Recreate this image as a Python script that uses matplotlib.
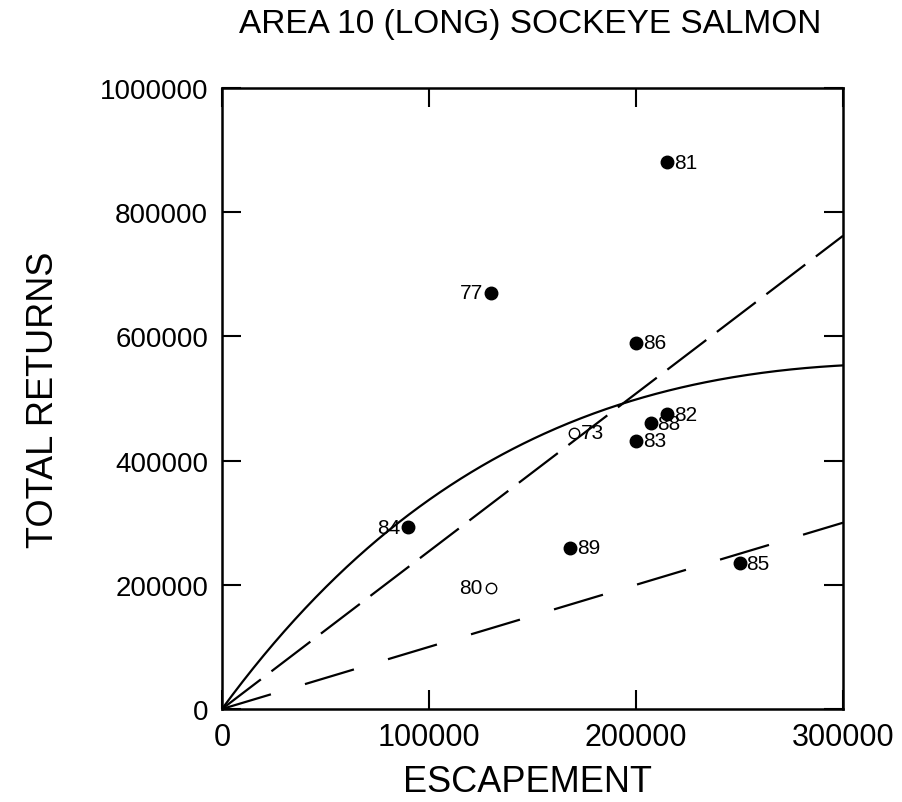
import numpy as np
import matplotlib.pyplot as plt

plt.rcParams['font.family'] = ['Liberation Sans', 'DejaVu Sans']

# Brood years, escapement and total returns
years = ['73', '77', '80', '81', '82', '83', '84', '85', '86', '88', '89']
escapement = [170000, 130000, 130000, 215000, 215000, 200000, 90000, 250000, 200000, 207000, 168000]
returns = [445000, 670000, 195000, 880000, 475000, 432000, 293000, 235000, 590000, 460000, 260000]
open_years = ['73', '80']
left_label_years = ['77', '80', '84']

# Ricker curve parameters and the two reference lines (returns per spawner)
ricker_a = 4.55
ricker_b = 3.01e-6
upper_slope = 2.54
replacement_slope = 1.0

fig = plt.figure(figsize=(9.03, 8.03), dpi=100)
ax = fig.add_axes([0.2458, 0.1158, 0.6878, 0.7734])

s = np.linspace(0, 300000, 300)
ax.plot(s, ricker_a * s * np.exp(-ricker_b * s), color='black', lw=1.6)
ax.plot(s, upper_slope * s, color='black', lw=1.6, dashes=(22, 6))
ax.plot(s, replacement_slope * s, color='black', lw=1.6, dashes=(23, 16))

for yr, x, y in zip(years, escapement, returns):
    if yr in open_years:
        ax.plot(x, y, 'o', ms=7.5, mfc='white', mec='black', mew=1.0, zorder=5)
    else:
        ax.plot(x, y, 'o', ms=9, color='black', zorder=5)
    if yr in left_label_years:
        ax.annotate(yr, (x, y), xytext=(-6, 0), textcoords='offset points',
                    ha='right', va='center', fontsize=15)
    else:
        ax.annotate(yr, (x, y), xytext=(5, 0), textcoords='offset points',
                    ha='left', va='center', fontsize=15)

ax.set_xlim(0, 300000)
ax.set_ylim(0, 1000000)
ax.set_xticks([0, 100000, 200000, 300000])
ax.set_yticks([0, 200000, 400000, 600000, 800000, 1000000])
ax.set_xticklabels(['0', '100000', '200000', '300000'])
ax.set_yticklabels(['0', '200000', '400000', '600000', '800000', '1000000'])
ax.tick_params(direction='in', length=14, width=1.5, top=True, right=True)
ax.tick_params(axis='x', labelsize=22, pad=9)
ax.tick_params(axis='y', labelsize=20, pad=10)
for sp in ax.spines.values():
    sp.set_linewidth(1.8)

ax.set_xlabel('ESCAPEMENT', fontsize=26, va='center')
ax.set_ylabel('TOTAL RETURNS', fontsize=26, va='center')
ax.xaxis.set_label_coords(0.492, -0.117)
ax.yaxis.set_label_coords(-0.288, 0.5)
fig.text(0.587, 0.970, 'AREA 10 (LONG) SOCKEYE SALMON', ha='center', va='center',
         fontsize=24)

fig.savefig('out.png', dpi=100)
